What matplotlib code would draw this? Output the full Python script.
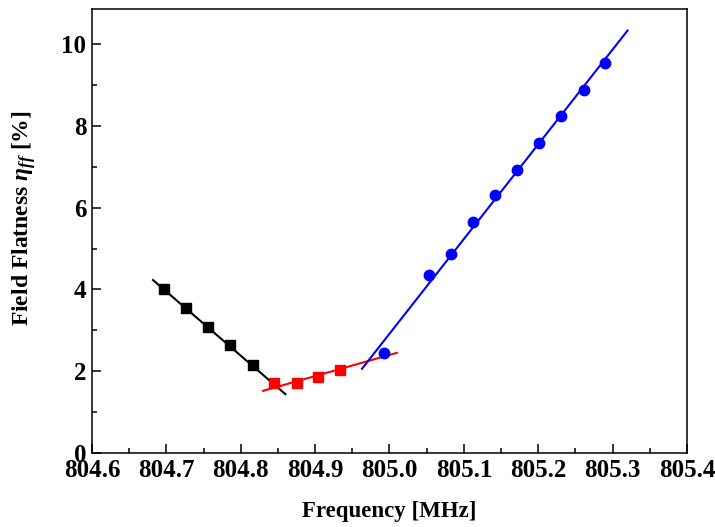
import matplotlib.pyplot as plt
from matplotlib.ticker import MultipleLocator, FormatStrFormatter

plt.rcParams['font.family'] = ['Liberation Serif', 'DejaVu Serif']
plt.rcParams['font.weight'] = 'bold'
plt.rcParams['mathtext.fontset'] = 'custom'
plt.rcParams['mathtext.rm'] = 'Liberation Serif:bold'
plt.rcParams['mathtext.it'] = 'Liberation Serif:bold:italic'

black_x = [804.697, 804.727, 804.756, 804.786, 804.816]
black_y = [4.00, 3.55, 3.09, 2.63, 2.16]
red_x = [804.845, 804.875, 804.904, 804.934]
red_y = [1.70, 1.71, 1.87, 2.04]
blue_x = [804.993, 805.053, 805.083, 805.112, 805.142, 805.171, 805.201, 805.231, 805.261, 805.290]
blue_y = [2.44, 4.35, 4.86, 5.66, 6.30, 6.92, 7.59, 8.24, 8.89, 9.55]

# 피팅 직선 끝점
black_fit_x = [804.682, 804.860]
black_fit_y = [4.23, 1.44]
red_fit_x = [804.830, 805.010]
red_fit_y = [1.52, 2.45]
blue_fit_x = [804.963, 805.320]
blue_fit_y = [2.06, 10.33]

fig = plt.figure(figsize=(7.15, 5.27), dpi=100)
ax = fig.add_axes([0.1287, 0.1404, 0.8321, 0.8426])

ax.plot(black_fit_x, black_fit_y, color='black', lw=1.5)
ax.plot(red_fit_x, red_fit_y, color='red', lw=1.5)
ax.plot(blue_fit_x, blue_fit_y, color='blue', lw=1.5)
ax.plot(black_x, black_y, 's', color='black', ms=7)
ax.plot(red_x, red_y, 's', color='red', ms=7)
ax.plot(blue_x, blue_y, 'o', color='blue', ms=7.5)

ax.set_xlim(804.6, 805.4)
ax.set_ylim(0, 10.86)
ax.xaxis.set_major_locator(MultipleLocator(0.1))
ax.xaxis.set_minor_locator(MultipleLocator(0.05))
ax.xaxis.set_major_formatter(FormatStrFormatter('%.1f'))
ax.yaxis.set_major_locator(MultipleLocator(2))
ax.yaxis.set_minor_locator(MultipleLocator(1))
ax.tick_params(which='both', direction='in', width=1.1, labelsize=18)
ax.tick_params(which='major', length=6.5, pad=4)
ax.tick_params(which='minor', length=3.5)
for s in ax.spines.values():
    s.set_linewidth(1.1)

ax.set_xlabel('Frequency [MHz]', fontsize=16.5, fontweight='bold')
ax.xaxis.set_label_coords(0.5, -0.108)
ax.set_ylabel(r'Field Flatness $\eta_{ff}$ [%]', fontsize=17, fontweight='bold')
ax.yaxis.set_label_coords(-0.09, 0.53)

plt.savefig('out.png', dpi=100)
